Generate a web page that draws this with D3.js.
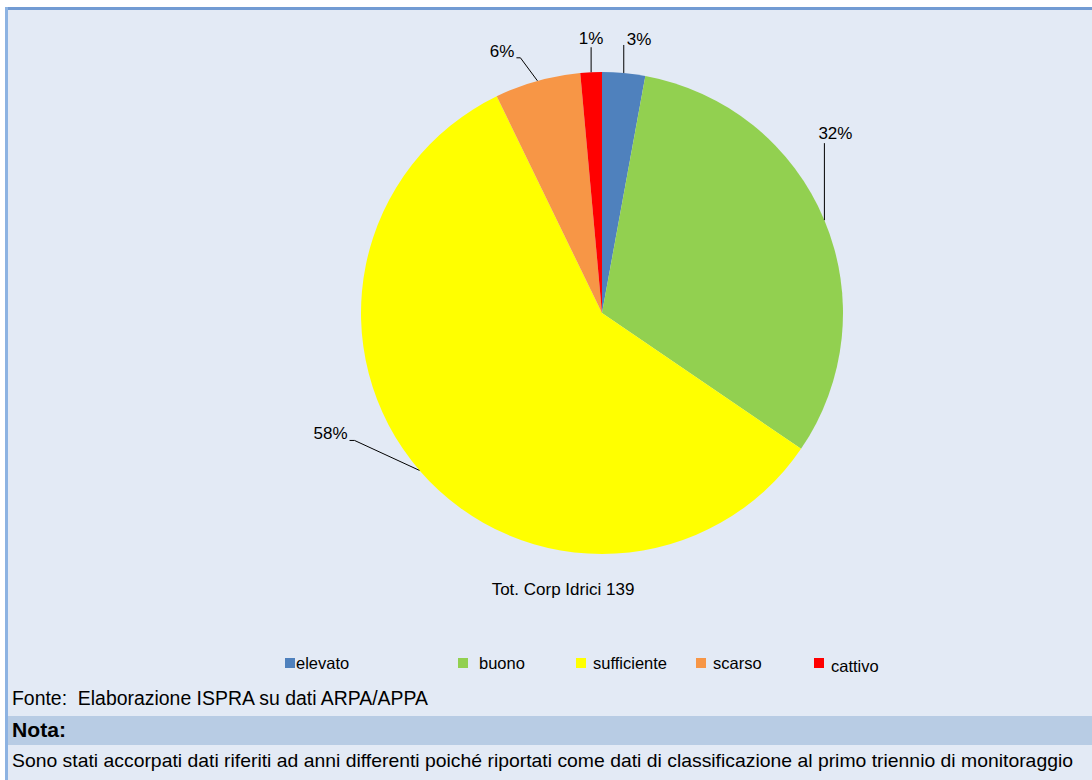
<!DOCTYPE html>
<html>
<head>
<meta charset="utf-8">
<script src="https://cdn.jsdelivr.net/npm/d3@7"></script>
<style>
  html, body { margin: 0; padding: 0; background: #fff; }
  svg { display: block; }
</style>
</head>
<body>
<div id="chart"></div>
<script>
// Stato ecologico - corpi idrici (pie chart)
const categories = ["elevato", "buono", "sufficiente", "scarso", "cattivo"];
const counts = [4, 44, 81, 8, 2];
const colors = ["#4F81BD", "#92D050", "#FFFF00", "#F79646", "#FF0000"];
const totalLabel = "Tot. Corp Idrici 139";

// leader line end (offset from slice edge) and label text placement, same order as categories
const labelLayout = [
  {lx: 0, ly: -28, tx: 3, ty: 0, anchor: "start"},
  {lx: 0, ly: -77, tx: 11, ty: -4, anchor: "middle"},
  {lx: -65, ly: -30, tx: -2, ty: -1, anchor: "end", elbow: 5},
  {lx: -17, ly: -23, tx: -2, ty: -1, anchor: "end", elbow: 4},
  {lx: 0, ly: -25, tx: 0, ty: -3, anchor: "middle"}
];

const W = 1092, H = 780;
const font = "'Liberation Sans', Arial, sans-serif";
const svg = d3.select("#chart")
  .append("svg")
  .attr("width", W)
  .attr("height", H);

// panel background + borders
svg.append("rect")
  .attr("x", 5).attr("y", 7)
  .attr("width", W - 5).attr("height", H - 7)
  .attr("fill", "#E3EAF5");

svg.append("rect")
  .attr("x", 5).attr("y", 716)
  .attr("width", W - 5).attr("height", 29)
  .attr("fill", "#B8CCE4");

svg.append("rect")
  .attr("x", 5).attr("y", 7)
  .attr("width", W - 5).attr("height", 3)
  .attr("fill", "#729BD3");

svg.append("rect")
  .attr("x", 5).attr("y", 7)
  .attr("width", 3).attr("height", H - 7)
  .attr("fill", "#8DB3E2");

// pie
const cx = 602, cy = 313, r = 241;
const data = categories.map((c, i) => ({name: c, value: counts[i], color: colors[i], layout: labelLayout[i]}));
const total = d3.sum(counts);

const pie = d3.pie()
  .sort(null)
  .value(d => d.value);

const arc = d3.arc()
  .innerRadius(0)
  .outerRadius(r);

const g = svg.append("g")
  .attr("transform", `translate(${cx},${cy})`);

const arcs = pie(data);

g.selectAll(".slice")
  .data(arcs)
  .enter()
  .append("path")
  .attr("class", "slice")
  .attr("d", arc)
  .attr("fill", d => d.data.color);

// leader lines + percentage labels
arcs.forEach(d => {
  const mid = (d.startAngle + d.endAngle) / 2;
  const px = r * Math.sin(mid), py = -r * Math.cos(mid);
  const L = d.data.layout;
  const ex = px + L.lx, ey = py + L.ly;
  let pts = [[px, py], [ex, ey]];
  if (L.elbow) pts.push([ex - L.elbow, ey]);
  g.append("path")
    .attr("d", d3.line()(pts))
    .attr("fill", "none")
    .attr("stroke", "#000")
    .attr("stroke-width", 1);
  const tx = (L.elbow ? ex - L.elbow : ex) + L.tx;
  g.append("text")
    .attr("x", tx)
    .attr("y", ey + L.ty)
    .attr("text-anchor", L.anchor)
    .style("font-family", font)
    .style("font-size", "17px")
    .attr("fill", "#000")
    .text(Math.round(d.data.value / total * 100) + "%");
});

svg.append("text")
  .attr("x", 563)
  .attr("y", 595)
  .attr("text-anchor", "middle")
  .style("font-family", font)
  .style("font-size", "17px")
  .text(totalLabel);

// legend
const legendX = [285, 458, 576, 696, 814];
const legendTextX = [296, 479, 593, 713, 831];
const legendTextY = [669, 669, 669, 669, 672];
const legend = svg.append("g");
legend.selectAll("rect")
  .data(data)
  .enter()
  .append("rect")
  .attr("x", (d, i) => legendX[i])
  .attr("y", 658)
  .attr("width", 10)
  .attr("height", 10)
  .attr("fill", d => d.color);

legend.selectAll("text")
  .data(data)
  .enter()
  .append("text")
  .attr("x", (d, i) => legendTextX[i])
  .attr("y", (d, i) => legendTextY[i])
  .style("font-family", font)
  .style("font-size", "16.5px")
  .text(d => d.name);

// footer texts (narrow face: compress Liberation Sans)
svg.append("text")
  .attr("x", 12).attr("y", 705)
  .attr("textLength", 416)
  .attr("lengthAdjust", "spacingAndGlyphs")
  .style("font-family", font)
  .style("font-size", "20px")
  .text("Fonte:\u00A0 Elaborazione ISPRA su dati ARPA/APPA");

svg.append("text")
  .attr("x", 12).attr("y", 737)
  .attr("textLength", 54)
  .attr("lengthAdjust", "spacingAndGlyphs")
  .style("font-family", font)
  .style("font-size", "20px")
  .style("font-weight", "bold")
  .text("Nota:");

svg.append("text")
  .attr("x", 12).attr("y", 767)
  .attr("textLength", 1061)
  .attr("lengthAdjust", "spacingAndGlyphs")
  .style("font-family", font)
  .style("font-size", "19px")
  .text("Sono stati accorpati dati riferiti ad anni differenti poiché riportati come dati di classificazione al primo triennio di monitoraggio");
</script>
</body>
</html>
